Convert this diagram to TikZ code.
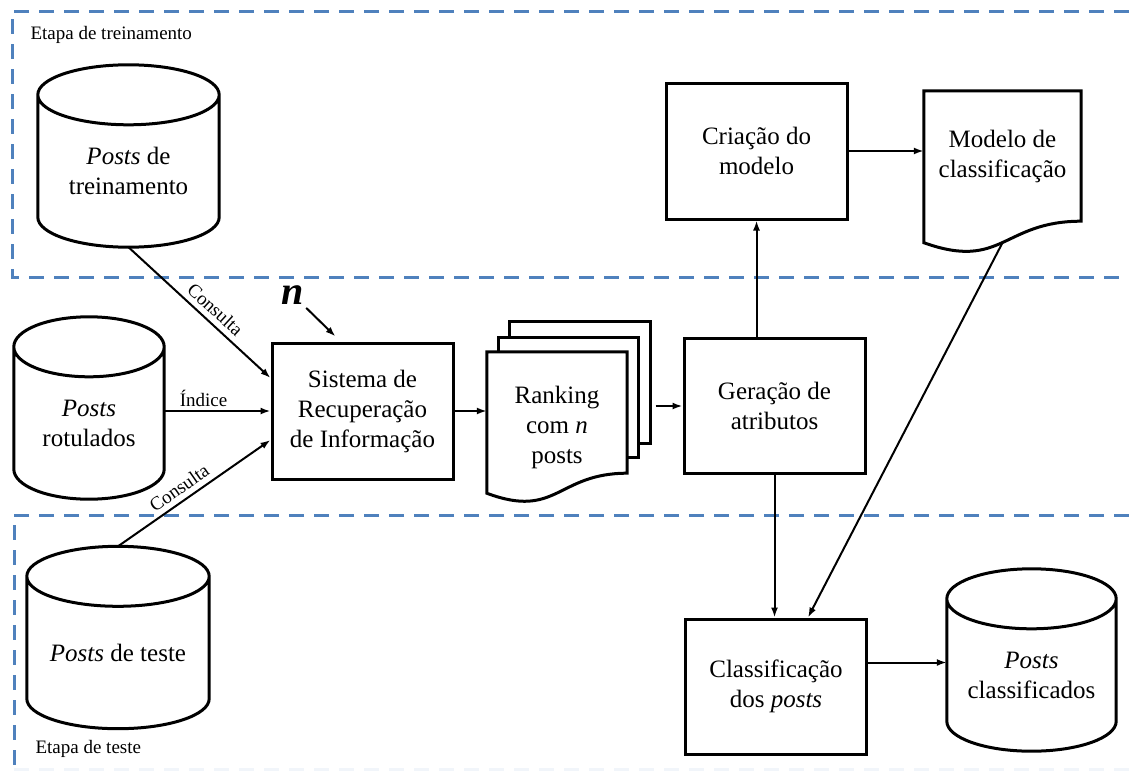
\documentclass[tikz,border=0pt]{standalone}
\usepackage{fontspec}
\setmainfont{Liberation Serif}
\usetikzlibrary{calc,positioning,arrows.meta}

\definecolor{stageblue}{RGB}{79,129,189}
\newcommand{\mainsize}{\fontsize{25}{30}\selectfont}
\newcommand{\smallsize}{\fontsize{19}{22}\selectfont}

% cylinder outline round a node, top ellipse centred on its north edge
\newcommand{\cylout}[1]{%
  \draw[outline] let \p1=($(#1.north east)-(#1.north west)$) in
    (#1.north west) -- ([yshift=30pt]#1.south west)
    arc[start angle=180,end angle=360,x radius=0.5*\x1,y radius=30pt]
    -- (#1.north east)
    arc[start angle=0,end angle=180,x radius=0.5*\x1,y radius=30pt]
    -- cycle
    (#1.north east)
    arc[start angle=0,end angle=-180,x radius=0.5*\x1,y radius=30pt];
}
% document outline (wavy bottom) round a node
\newcommand{\docout}[1]{%
  \draw[outline] (#1.north west) -- (#1.north east) -- (#1.south east)
    .. controls (#1.south) and ($(#1.south)!-0.381!(#1.north)$) ..
    ($(#1.south west)!-0.165!(#1.north west)$) -- cycle;
}

\begin{document}
\begin{tikzpicture}[
    x=1pt,y=-1pt,
    >={Latex[length=10pt,width=7pt]},
    outline/.style={line width=3pt,line join=miter},
    link/.style={->,line width=2pt},
    stage/.style={stageblue,line width=3pt,dash pattern=on 15pt off 10pt},
    box/.style={draw,line width=3pt,minimum width=181pt,minimum height=136pt,align=center,font=\mainsize},
    cyl/.style={minimum height=152pt,inner sep=0pt,align=center,font=\mainsize},
    doc/.style={minimum width=#1,align=center,inner sep=0pt,font=\mainsize},
    sheet/.style={draw,fill=white,line width=3pt,minimum width=140pt}
    ]
    \useasboundingbox (0,0) rectangle (1129,771);

    % stages
    \draw[stage] (1129,11) -- (12,11) -- (12,277) -- (1129,277);
    \draw[stage] (1129,515) -- (14,515) -- (14,771);
    \draw[stage,stageblue!8] (14,769) -- (1129,769);
    \node (trainlab) [anchor=west,font=\smallsize] at (27,35) {Etapa de treinamento};
    \node (testlab) [anchor=west,font=\smallsize] at (32,749) {Etapa de teste};

    % data stores
    \node (trein) [cyl,minimum width=181pt] at (128.5,171) {\textit{Posts} de\\treinamento};
    \node (rot) [cyl,minimum width=150pt] at (89,423) {\textit{Posts}\\rotulados};
    \node (teste) [cyl,minimum width=182pt] at (118,652.5) {\textit{Posts} de teste};
    \node (cls) [cyl,minimum width=169pt] at (1031.5,675) {\textit{Posts}\\classificados};
    \foreach \c in {trein,rot,teste,cls}
      \cylout{\c};

    % processes
    \node (sis) [box] at (362.5,411) {Sistema de\\Recuperação\\de Informação};
    \node (gera) [box,minimum height=135pt] at (774.5,406) {Geração de\\atributos};
    \node (cria) [box] at (756.5,151) {Criação do\\modelo};
    \node (classif) [box,minimum height=135pt] at (776,686.5) {Classificação\\dos \textit{posts}};

    % documents
    \node (rankc) [sheet,minimum width=141pt,minimum height=122pt] at (579.5,382) {};
    \node (rankb) [sheet,minimum height=120pt] at (568,397) {};
    \node (rank) [doc=140pt,minimum height=121pt,fill=white] at (557,412.5)
      {\raisebox{-21pt}[0pt][0pt]{\begin{tabular}{@{}c@{}}Ranking\\com \textit{n}\\posts\end{tabular}}};
    \docout{rank}
    \node (modelo) [doc=157pt,minimum height=130pt] at (1002.5,156) {Modelo de\\classificação};
    \docout{modelo}
    \coordinate (modwave) at ($(modelo.south)!-0.165!(modelo.north)$);

    \node (nlab) at (293,295) {\fontsize{40}{40}\selectfont\bfseries\itshape n};

    % connectors
    \draw[link] (trein.south) -- ([yshift=33pt]sis.west)
      node [pos=0.55,sloped,above=2pt,font=\smallsize] {Consulta};
    \draw[link] (rot.east |- sis.west) -- (sis.west)
      node [pos=0.37,above,font=\smallsize] {Índice};
    \draw[link] ([yshift=30pt]teste.north) -- ([yshift=-29pt]sis.west)
      node [pos=0.45,sloped,above=2pt,font=\smallsize] {Consulta};
    \draw[link] (nlab) -- ([xshift=-27pt,yshift=5pt]sis.north);
    \draw[link] (sis.east) -- (rank.west |- sis.east);
    \draw[link] ([xshift=4pt]rankc.east |- gera.west) -- (gera.west);
    \draw[link] (cria.south |- gera.north) -- (cria.south);
    \draw[link] (cria.east) -- (modelo.west |- cria.east);
    \draw[link] (modwave) -- ([xshift=32pt]classif.north);
    \draw[link] (gera.south) -- (gera.south |- classif.north);
    \draw[link] ($(classif.east)+(0,-24)$) -- ($(classif.east -| cls.west)+(0,-24)$);

  \end{tikzpicture}
\end{document}
